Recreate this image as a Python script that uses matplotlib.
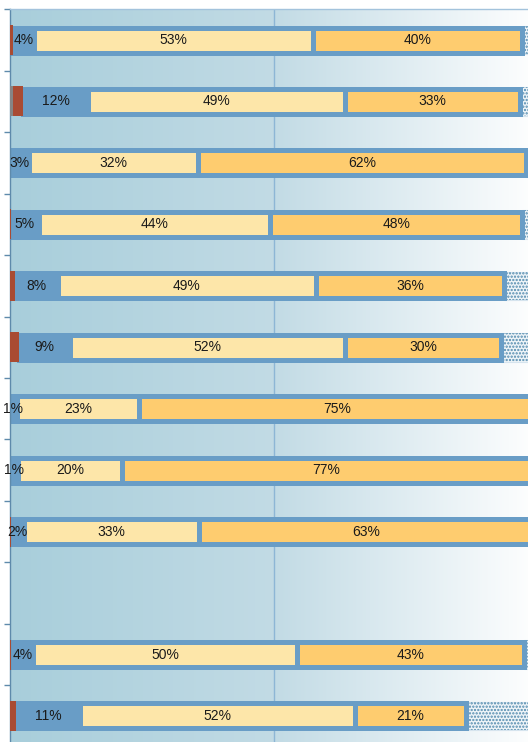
import numpy as np
import matplotlib
matplotlib.use("Agg")
import matplotlib.pyplot as plt
from matplotlib.colors import LinearSegmentedColormap

plt.rcParams['font.family'] = ['Liberation Sans', 'DejaVu Sans']
plt.rcParams['hatch.linewidth'] = 1.1

# ---- data (percent) ----
rows = list(range(12))
gray = [0, 0.7, 0, 0, 0, 0, 0, 0, 0, 0, 0, 0]
red = [0.6, 1.9, 0, 0.2, 1.0, 1.8, 0, 0, 0.3, 0, 0.3, 1.3]
blue = [4.1, 12.3, 3.6, 5.4, 8.2, 9.6, 1.5, 1.6, 2.4, 0, 4.2, 12.0]
yellow = [52.6, 48.6, 32.0, 43.7, 48.7, 52.0, 23.0, 19.7, 33.2, 0, 49.8, 52.0]
orange = [39.6, 33.0, 62.0, 47.6, 35.6, 29.6, 75.0, 77.0, 63.0, 0, 43.0, 21.0]
dotted = [3.1, 3.5, 2.4, 3.5, 6.5, 7.0, 0.5, 1.7, 1.1, 0, 2.7, 13.7]

blue_lbl = ["4%", "12%", "3%", "5%", "8%", "9%", "1%", "1%", "2%", "", "4%", "11%"]
yellow_lbl = ["53%", "49%", "32%", "44%", "49%", "52%", "23%", "20%", "33%", "", "50%", "52%"]
orange_lbl = ["40%", "33%", "62%", "48%", "36%", "30%", "75%", "77%", "63%", "", "43%", "21%"]

C_BLUE = '#699dc6'
C_YEL = '#fde6a9'
C_ORA = '#fecc6f'
C_RED = '#a94b33'
C_GRAY = '#858585'
C_DOT_FACE = '#eef4f8'
C_DOT = '#4f89ad'

W, H = 528, 742
fig = plt.figure(figsize=(W / 100, H / 100), dpi=100)
row_px = 61.45
top_px = 9.3
left_px = 9.5
scale = 5.29  # px per percent
ax_w = 100 * scale / W
ax_h = 12 * row_px / H
ax_bottom = (H - (top_px + 12 * row_px)) / H
ax = fig.add_axes([left_px / W, ax_bottom, ax_w, ax_h])
ax.set_xlim(0, 100)
ax.set_ylim(11.5, -0.5)

# gradient background
cmap = LinearSegmentedColormap.from_list('bg', ['#a8cedb', '#c2dbe5', '#ffffff'])
grad = np.linspace(0, 1, 256).reshape(1, -1)
ax.imshow(grad, extent=[0, 100, 11.5, -0.5], aspect='auto', cmap=cmap, zorder=0)

ax.axvline(50, color='#8db6d5', lw=1.0, zorder=0.5)

inner_h = 25 / row_px
outer_h = 30 / row_px
lw_pt = 5 * 0.72

for i in rows:
    x = 0.0
    if gray[i] > 0:
        ax.barh(i, gray[i], left=x, height=outer_h, color=C_GRAY, lw=0, zorder=3)
    x += gray[i]
    if red[i] > 0:
        ax.barh(i, red[i], left=x, height=outer_h, color=C_RED, lw=0, zorder=3)
    x += red[i]
    segs = [(blue[i], C_BLUE, blue_lbl[i]), (yellow[i], C_YEL, yellow_lbl[i]),
            (orange[i], C_ORA, orange_lbl[i])]
    for val, col, lbl in segs:
        if val > 0:
            ax.barh(i, val, left=x, height=inner_h, facecolor=col,
                    edgecolor=C_BLUE, lw=lw_pt, zorder=2)
            ax.text(x + val / 2, i, lbl, ha='center', va='center', fontsize=10,
                    color='#1a1a1a', zorder=4, clip_on=False)
        x += val
    if dotted[i] > 0:
        ax.barh(i, dotted[i], left=x, height=outer_h * 0.95, facecolor=C_DOT_FACE,
                edgecolor='#d6e4ee', lw=0.8, zorder=1.5)
        ax.barh(i, dotted[i], left=x, height=outer_h * 0.95, facecolor='none',
                edgecolor=C_DOT, lw=0, hatch='.....', zorder=1.6)

for s in ['right', 'bottom']:
    ax.spines[s].set_visible(False)
ax.spines['left'].set_color('#5e8aab')
ax.spines['left'].set_linewidth(1.0)
ax.spines['top'].set_color('#a3c3dc')
ax.spines['top'].set_linewidth(1.0)
ax.set_yticks([k + 0.5 for k in range(-1, 12)])
ax.set_yticklabels([])
ax.set_xticks([])
ax.tick_params(axis='y', direction='out', length=4, color='#5e8aab', width=1)

fig.savefig('out.png', dpi=100)
